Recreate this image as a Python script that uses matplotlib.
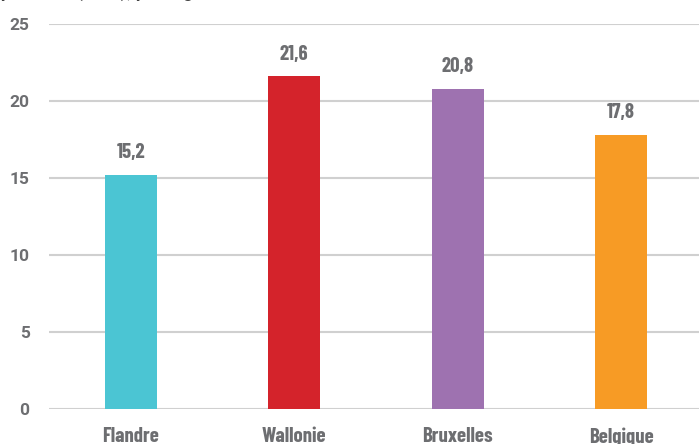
import matplotlib
matplotlib.use("Agg")
import matplotlib.pyplot as plt
from matplotlib import font_manager as fm

regions = ["Flandre", "Wallonie", "Bruxelles", "Belgique"]
values = [15.2, 21.6, 20.8, 17.8]
value_labels = ["15,2", "21,6", "20,8", "17,8"]
colors = ["#4bc5d3", "#d4232b", "#9e72b0", "#f79b25"]
yticks = [0, 5, 10, 15, 20, 25]
title = "Taux de pauvreté (en %), par région"

names = {f.name for f in fm.fontManager.ttflist}
cond = "Barlow Condensed" if "Barlow Condensed" in names else "DejaVu Sans"
grey = "#6d6e71"

fig = plt.figure(figsize=(6.99, 4.44), dpi=100)
ax = fig.add_axes([49/699, 35/444, 654/699, 385/444])

ax.bar(range(len(regions)), values, width=0.32, color=colors, zorder=3)
for i, (v, lab) in enumerate(zip(values, value_labels)):
    ax.annotate(lab, (i, v), xytext=(0, 9), textcoords="offset points",
                ha="center", va="bottom", fontsize=15, color=grey,
                family=cond, weight="bold")

ax.set_xlim(-0.5, 3.5)
ax.set_ylim(0, 25)
ax.set_yticks(yticks)
ax.set_yticklabels([str(t) for t in yticks], fontsize=12.5, color=grey,
                   family="Roboto", weight="bold")
ax.set_xticks(range(len(regions)))
ax.set_xticklabels(regions, fontsize=15, color=grey, family=cond, weight="bold")
ax.tick_params(axis="y", length=0, pad=14)
ax.tick_params(axis="x", length=0, pad=13)
ax.yaxis.grid(True, color="#d0d0d0", linewidth=1.5, zorder=0)
ax.set_axisbelow(True)
for s in ax.spines.values():
    s.set_visible(False)

fig.text(-68/699, 1 + 3.5/444, title, ha="left", va="baseline", fontsize=13,
         fontweight="bold", color="#444444", family="Roboto")

fig.savefig("out.png", dpi=100)
